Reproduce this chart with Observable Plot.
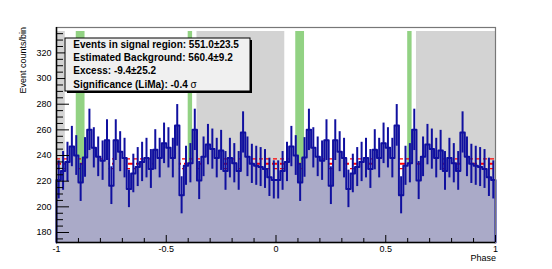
<!DOCTYPE html>
<html><head><meta charset="utf-8">
<script src="https://cdn.jsdelivr.net/npm/d3@7"></script>
<script src="https://cdn.jsdelivr.net/npm/@observablehq/plot@0.6"></script>
<style>
html,body{margin:0;padding:0;background:#fff;}
#chart svg{display:block;}
</style>
</head><body><div id="chart"></div>
<script>
// ---- data ----
const phaseDomain = [-1, 1];
const countDomain = [172.2, 339.8];
const binWidth = 0.02;
const cycleOffsets = [-1, 0];
const cycleCounts = [
  221, 228, 235, 247, 240, 219, 238.5, 260, 246, 239,
  236, 252, 216.5, 252, 243, 238, 214, 226, 231, 235,
  238, 229.5, 244.5, 238, 249.5, 246, 238, 263.5, 209, 232,
  234, 260, 220.5, 239, 248.5, 245, 238, 244, 228, 238,
  234, 228, 258, 239, 233.5, 232, 231, 229.5, 223, 221
];
const signalRegions = [[0.09, 0.13], [0.60, 0.62]];
const backgroundRegions = [[0.64, 1.04]];
const regionOffsets = [-2, -1, 0];
const bkgLevel = 233.6;
const bkgErr = 3.8;
const yMajorTicks = [180, 200, 220, 240, 260, 280, 300, 320];
const yMinorTicks = [175, 185, 190, 195, 205, 210, 215, 225, 230, 235, 245, 250, 255, 265, 270, 275, 285, 290, 295, 305, 310, 315, 325, 330, 335];
const xMajorTicks = [-1, -0.5, 0, 0.5, 1];
const xTickLabels = ["-1", "-0.5", "0", "0.5", "1"];
const xMinorTicks = [-0.9, -0.8, -0.7, -0.6, -0.4, -0.3, -0.2, -0.1, 0.1, 0.2, 0.3, 0.4, 0.6, 0.7, 0.8, 0.9];
const yLabel = "Event counts/bin";
const xLabel = "Phase";
const statsLines = [
  "Events in signal region: 551.0\u00b123.5",
  "Estimated Background: 560.4\u00b19.2",
  "Excess: -9.4\u00b125.2",
  "Significance (LiMa): -0.4 "
];
const sigmaSymbol = "\u03c3";

// ---- derived tables ----
const bins = [];
for (const o of cycleOffsets) {
  cycleCounts.forEach((v, k) => {
    const lo = o + k * binWidth;
    bins.push({lo, hi: lo + binWidth, mid: lo + binWidth / 2, v});
  });
}
const last = bins[bins.length - 1];
const stepPts = bins.map(b => ({x: b.lo, y: b.v}));
stepPts.push({x: last.hi, y: last.v});
const outline = [{x: bins[0].lo, y: countDomain[0]}, ...stepPts, {x: last.hi, y: countDomain[0]}];

const bands = [];
for (const o of regionOffsets) {
  for (const [a, b] of backgroundRegions) {
    const x1 = Math.max(phaseDomain[0], o + a), x2 = Math.min(phaseDomain[1], o + b);
    if (x2 > x1) bands.push({x1, x2, kind: "bkg"});
  }
  for (const [a, b] of signalRegions) {
    const x1 = Math.max(phaseDomain[0], o + a), x2 = Math.min(phaseDomain[1], o + b);
    if (x2 > x1) bands.push({x1, x2, kind: "sig"});
  }
}

// ---- layout ----
const W = 552, H = 269;
const mL = 56, mR = 57, mT = 27, mB = 27;
const plotW = W - mL - mR, plotH = H - mT - mB;
const lineColor = "#10109f";
const font = "'Liberation Sans', Arial, Helvetica, sans-serif";

const chart = Plot.plot({
  width: W, height: H,
  marginLeft: mL, marginRight: mR, marginTop: mT, marginBottom: mB,
  x: {domain: phaseDomain},
  y: {domain: countDomain},
  style: {fontFamily: font, fontSize: "9px", background: "#fff"},
  marks: [
    Plot.rect(bands, {x1: "x1", x2: "x2", insetTop: 4, fill: d => d.kind === "bkg" ? "#d3d3d3" : "#92d283"}),
    Plot.ruleY([bkgLevel - bkgErr, bkgLevel + bkgErr], {stroke: "#ff0000", strokeWidth: 1.2, strokeDasharray: "4,3"}),
    Plot.ruleY([bkgLevel], {stroke: "#ff0000", strokeWidth: 2.2, strokeDasharray: "5,3"}),
    Plot.areaY(stepPts, {x: "x", y1: countDomain[0], y2: "y", curve: "step-after", fill: "#aaaac8"}),
    Plot.line(outline, {x: "x", y: "y", curve: "step-after", stroke: lineColor, strokeWidth: 2}),
    Plot.ruleX(bins, {x: "mid", y1: d => d.v - Math.sqrt(d.v), y2: d => d.v + Math.sqrt(d.v), stroke: lineColor, strokeWidth: 2}),
    Plot.frame({stroke: "#777", strokeWidth: 1.2}),
    Plot.ruleX([phaseDomain[0]], {stroke: "#000", strokeWidth: 1.5}),
    Plot.ruleY([countDomain[0]], {stroke: "#000", strokeWidth: 1.5}),
    Plot.ruleY(yMajorTicks, {insetRight: plotW - 13, stroke: "#000"}),
    Plot.ruleY(yMinorTicks, {insetRight: plotW - 7, stroke: "#000"}),
    Plot.ruleX(xMajorTicks, {insetTop: plotH - 7, stroke: "#000"}),
    Plot.ruleX(xMinorTicks, {insetTop: plotH - 4, stroke: "#000"}),
    Plot.axisY(yMajorTicks, {anchor: "left", tickSize: 0, tickPadding: 5, label: null, fontSize: 9}),
    Plot.axisX(xMajorTicks, {anchor: "bottom", tickSize: 0, tickPadding: 3, label: null, fontSize: 9,
      tickFormat: d => xTickLabels[xMajorTicks.indexOf(d)]})
  ]
});
document.getElementById("chart").appendChild(chart);

const svg = d3.select(chart);

// ---- axis titles ----
svg.append("text").attr("transform", "translate(26,27) rotate(-90)")
  .attr("text-anchor", "end").attr("font-family", font).attr("font-size", 9).attr("fill", "#000")
  .text(yLabel);
svg.append("text").attr("x", 496).attr("y", 261)
  .attr("text-anchor", "end").attr("font-family", font).attr("font-size", 9).attr("fill", "#000")
  .text(xLabel);

// ---- statistics box ----
const g = svg.append("g");
const bx = 65, by = 38, bw = 185, bh = 53;
g.append("rect").attr("x", bx + 2).attr("y", by + 2).attr("width", bw).attr("height", bh).attr("fill", "#000");
g.append("rect").attr("x", bx).attr("y", by).attr("width", bw).attr("height", bh)
  .attr("fill", "#f0f0f0").attr("stroke", "#000").attr("stroke-width", 1);
const baselines = [47.5, 61, 74.3, 87.5];
statsLines.forEach((s, i) => {
  const t = g.append("text").attr("x", 73.3).attr("y", baselines[i]).attr("text-anchor", "start")
    .attr("font-family", font).attr("font-size", 10).attr("font-weight", "bold").attr("fill", "#000");
  t.append("tspan").text(s);
  if (i === statsLines.length - 1) t.append("tspan").attr("font-weight", "normal").text(sigmaSymbol);
});
</script>
</body></html>
